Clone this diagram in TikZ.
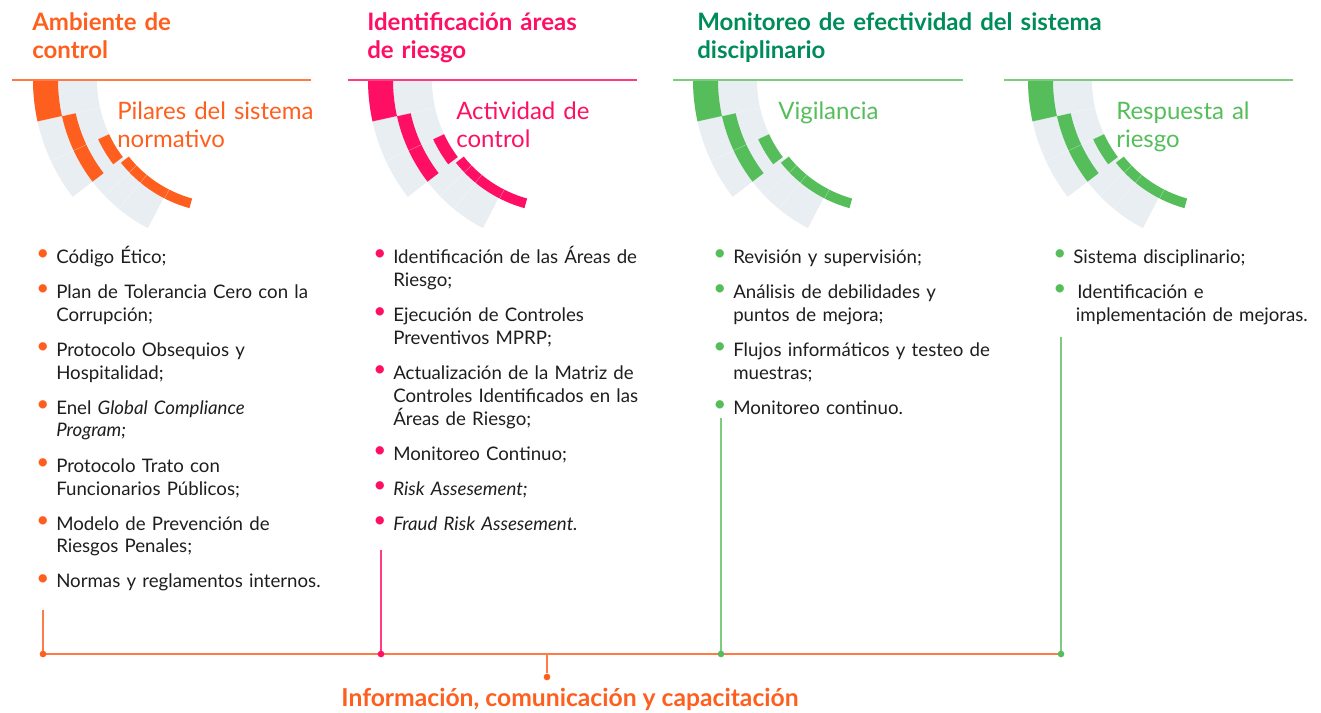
\documentclass[tikz,border=0pt]{standalone}
\usepackage{fontspec}
\setmainfont{Lato}
\usetikzlibrary{positioning}

\definecolor{riskorange}{HTML}{FF5F1E}
\definecolor{riskpink}{HTML}{FF0F64}
\definecolor{riskgreen}{HTML}{55BE5A}
\definecolor{riskdkgreen}{HTML}{008C5A}
\definecolor{bandgray}{HTML}{E9EEF3}
\definecolor{lineorange}{HTML}{FF7A45}
\definecolor{linepink}{HTML}{FF3C7D}
\definecolor{linegreen}{HTML}{7DCB7F}
\definecolor{inktext}{HTML}{1E1E1E}
\colorlet{dotcolor}{riskorange}

\tikzset{
  heading/.style={anchor=base west, inner sep=0pt, align=left, text width=330pt,
    font=\fontsize{18}{21}\selectfont\bfseries},
  pillar/.style={anchor=base west, inner sep=0pt, align=left, text width=170pt,
    font=\fontsize{18}{21}\selectfont},
  checklist/.style={anchor=base west, inner sep=0pt, text width=250pt,
    font=\fontsize{14}{17.25}\selectfont, text=inktext,
    execute at begin node={\raggedright\colorlet{dotcolor}{#1}\setlength{\parskip}{9pt}}},
  topline/.style={line width=1.2pt},
  timeline/.style={line width=1.4pt, lineorange},
  joint/.style={circle, fill=#1, inner sep=0pt, minimum size=5pt},
}

% one bullet point
\newcommand{\entry}[1]{\hangindent=11.25pt\hangafter=1\noindent
  \makebox[11.25pt][l]{\hspace{-3.75pt}\textcolor{dotcolor}{\raisebox{2.2pt}{\scalebox{1.2}{\textbullet}}}}#1\par}

% ring segment: centre, outer r, inner r, from, to, colour
\newcommand{\arcpiece}[6]{%
  \fill[#6] ([shift={(#4:#2)}]#1) arc[start angle=#4, end angle=#5, radius=#2]
    -- ([shift={(#5:#3)}]#1) arc[start angle=#5, end angle=#4, radius=#3] -- cycle;}

% the stepped arcs of one column
\newcommand{\pillarmark}[2]{%
  \arcpiece{#1}{192}{167}{180}{142.5}{bandgray}
  \arcpiece{#1}{167}{128}{180}{117.5}{bandgray}
  \arcpiece{#1}{192}{167}{180}{167.5}{#2}
  \arcpiece{#1}{167}{153}{167.5}{142.5}{#2}
  \arcpiece{#1}{140}{128}{155}{143}{#2}
  \arcpiece{#1}{133}{123}{141.5}{105.5}{#2}
  \foreach \a in {167.5,155,136,129.5,117}
    \draw[white, opacity=0.5, line width=0.25pt] ([shift={(\a:121)}]#1) -- ([shift={(\a:193)}]#1);}

\begin{document}
\begin{tikzpicture}[x=0.75pt, y=-0.75pt]
  \useasboundingbox (0,0) rectangle (1321,713);

  % ----- Arc centres -----
  \coordinate (c1) at (225,80);
  \coordinate (c2) at (560,80);
  \coordinate (c3) at (885,80);
  \coordinate (c4) at (1220,80);

  \pillarmark{c1}{riskorange}
  \pillarmark{c2}{riskpink}
  \pillarmark{c3}{riskgreen}
  \pillarmark{c4}{riskgreen}

  % ----- Headings -----
  \node[heading, text=riskorange] (head1) at (32,31) {Ambiente de\\control};
  \node[heading, text=riskpink] (head2) at (367,31) {Identificación áreas\\de riesgo};
  \node[heading, text=riskdkgreen] (head3) at (697,31) {Monitoreo de efectividad del sistema\\disciplinario};

  \draw[topline, lineorange] (12,80) -- (311,80);
  \draw[topline, linepink] (348,80) -- (637,80);
  \draw[topline, linegreen] (673,80) -- (963,80);
  \draw[topline, linegreen] (1004,80) -- (1293,80);

  % ----- Pillars -----
  \node[pillar, text=riskorange] (pil1) at (117,120) {Pilares del sistema\\normativo};
  \node[pillar, text=riskpink] (pil2) at (456,120) {Actividad de\\control};
  \node[pillar, text=riskgreen] (pil3) at (778,120) {Vigilancia};
  \node[pillar, text=riskgreen] (pil4) at (1116,120) {Respuesta al\\riesgo};

  % ----- Lists -----
  \node[checklist=riskorange] (list1) at (41,263) {%
    \entry{Código Ético;}
    \entry{Plan de Tolerancia Cero con la\newline Corrupción;}
    \entry{Protocolo Obsequios y\newline Hospitalidad;}
    \entry{Enel \textit{Global Compliance\newline Program;}}
    \entry{Protocolo Trato con\newline Funcionarios Públicos;}
    \entry{Modelo de Prevención de\newline Riesgos Penales;}
    \entry{Normas y reglamentos internos.}};
  \node[checklist=riskpink] (list2) at (378,263) {%
    \entry{Identificación de las Áreas de\newline Riesgo;}
    \entry{Ejecución de Controles\newline Preventivos MPRP;}
    \entry{Actualización de la Matriz de\newline Controles Identificados en las\newline Áreas de Riesgo;}
    \entry{Monitoreo Continuo;}
    \entry{\textit{Risk Assesement;}}
    \entry{\textit{Fraud Risk Assesement.}}};
  \node[checklist=riskgreen] (list3) at (718,263) {%
    \entry{Revisión y supervisión;}
    \entry{Análisis de debilidades y\newline puntos de mejora;}
    \entry{Flujos informáticos y testeo de\newline muestras;}
    \entry{Monitoreo continuo.}};
  \node[checklist=riskgreen] (list4) at (1058,263) {%
    \entry{Sistema disciplinario;}
    \entry{\hspace{3pt}Identificación e\newline\hspace*{2pt}implementación de mejoras.}};

  % ----- Bottom line -----
  \coordinate (s1) at (43,610);
  \coordinate (s2) at (381,550);
  \coordinate (s3) at (721,418);
  \coordinate (s4) at (1061,337);
  \coordinate (b1) at (43,654);
  \coordinate (b2) at (381,654);
  \coordinate (b3) at (721,654);
  \coordinate (b4) at (1061,654);
  \coordinate (bmid) at (547,654);

  \draw[topline, lineorange] (s1) -- (b1);
  \draw[topline, linepink] (s2) -- (b2);
  \draw[topline, linegreen] (s3) -- (b3);
  \draw[topline, linegreen] (s4) -- (b4);
  \draw[timeline] (b1) -- (b4);

  \node[joint=riskorange] (d1) at (b1) {};
  \node[joint=riskpink] (d2) at (b2) {};
  \node[joint=riskgreen] (d3) at (b3) {};
  \node[joint=riskgreen] (d4) at (b4) {};
  \node[joint=riskorange] (d5) at (547,677) {};
  \draw[topline, lineorange] (bmid) -- (d5);

  \node[anchor=base, inner sep=0pt, font=\fontsize{18.5}{22}\selectfont\bfseries,
    text=riskorange] (info) at (570,706) {Información, comunicación y capacitación};

\end{tikzpicture}
\end{document}
